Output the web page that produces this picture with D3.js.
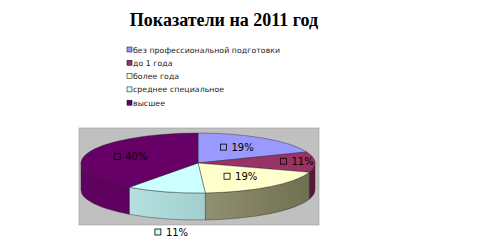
<!DOCTYPE html>
<html>
<head>
<meta charset="utf-8">
<script src="https://cdn.jsdelivr.net/npm/d3@7"></script>
<style>
  body { margin: 0; background: #fff; }
</style>
</head>
<body>
<div id="chart"></div>
<script>
const title = "Показатели на 2011 год";
const categories = ["без профессиональной подготовки", "до 1 года", "более года", "среднее специальное", "высшее"];
const values = [19, 11, 19, 11, 40];
const topColors = ["#9999FF", "#993366", "#FFFFCC", "#CCFFFF", "#660066"];
const sideLight = ["#8080D8", "#7A2850", "#B8B896", "#C0ECEC", "#600060"];
const sideDark = ["#6060B0", "#551838", "#6E6E50", "#88B4B4", "#580058"];

const W = 492, H = 252;
const svg = d3.select("#chart").append("svg")
  .attr("width", W).attr("height", H);

// title
svg.append("text")
  .attr("x", 224).attr("y", 26)
  .attr("text-anchor", "middle")
  .style("font-family", "Liberation Serif")
  .style("font-weight", "bold")
  .style("font-size", "18px")
  .text(title);

// legend
const leg = svg.append("g").attr("transform", "translate(127,50)");
const legRow = leg.selectAll("g").data(categories).enter().append("g")
  .attr("transform", (d, i) => `translate(0,${i * 13.3})`);
legRow.append("rect")
  .attr("x", 0).attr("y", -3).attr("width", 5).attr("height", 5)
  .attr("fill", (d, i) => topColors[i])
  .attr("stroke", "#000").attr("stroke-width", 0.5);
legRow.append("text")
  .attr("x", 6).attr("y", 2.5)
  .style("font-family", "DejaVu Sans")
  .style("font-size", "7.8px")
  .style("letter-spacing", "0.05px")
  .style("fill", "#222")
  .text(d => d);

// plot area
svg.append("rect")
  .attr("x", 79).attr("y", 128).attr("width", 240).attr("height", 97)
  .attr("fill", "#C0C0C0")
  .attr("stroke", "#9a9a9a").attr("stroke-width", 0.6);

// 3d pie
const cx = 198, cy = 163, rx = 117, ry = 30, depth = 27;
const pie = d3.pie().sort(null).value(d => d)(values);

const pt = (a, f = 1, dy = 0) => [cx + rx * f * Math.sin(a), cy - ry * f * Math.cos(a) + dy];

const defs = svg.append("defs");
pie.forEach((d, i) => {
  const g = defs.append("linearGradient")
    .attr("id", "side" + i)
    .attr("gradientUnits", "userSpaceOnUse")
    .attr("x1", cx - rx).attr("x2", cx + rx).attr("y1", 0).attr("y2", 0);
  g.append("stop").attr("offset", "0%").attr("stop-color", sideLight[i]);
  g.append("stop").attr("offset", "100%").attr("stop-color", sideDark[i]);
});

// walls (front half only)
const gp = svg.append("g");
pie.forEach((d, i) => {
  const s = Math.max(d.startAngle, Math.PI / 2);
  const e = Math.min(d.endAngle, 3 * Math.PI / 2);
  if (e <= s) return;
  const p0 = pt(s), p1 = pt(e), q1 = pt(e, 1, depth), q0 = pt(s, 1, depth);
  const path = `M${p0}A${rx},${ry} 0 0 1 ${p1}L${q1}A${rx},${ry} 0 0 0 ${q0}Z`;
  gp.append("path").attr("d", path)
    .attr("fill", `url(#side${i})`)
    .attr("stroke", "#222").attr("stroke-width", 0.4);
});

// tops
pie.forEach((d, i) => {
  const large = d.endAngle - d.startAngle > Math.PI ? 1 : 0;
  const path = `M${cx},${cy}L${pt(d.startAngle)}A${rx},${ry} 0 ${large} 1 ${pt(d.endAngle)}Z`;
  gp.append("path").attr("d", path)
    .attr("fill", topColors[i])
    .attr("stroke", "#222").attr("stroke-width", 0.4);
});

// data labels with legend keys
const labelF = [0.6, 0.85, 0.6, 0.8, 0.6];
const outside = [false, false, false, true, false];
pie.forEach((d, i) => {
  const mid = (d.startAngle + d.endAngle) / 2;
  let [x, y] = pt(mid, labelF[i]);
  if (outside[i]) y = cy + ry + depth + 13;
  const g = svg.append("g").attr("transform", `translate(${x - 17},${y})`);
  g.append("rect")
    .attr("x", 0).attr("y", -4).attr("width", 6).attr("height", 6)
    .attr("fill", topColors[i])
    .attr("stroke", "#000").attr("stroke-width", 0.8);
  g.append("text")
    .attr("x", 11).attr("y", 3)
    .style("font-family", "DejaVu Sans")
    .style("font-size", "10px")
    .style("fill", "#000")
    .text(Math.round(d.value) + "%");
});
</script>
</body>
</html>
